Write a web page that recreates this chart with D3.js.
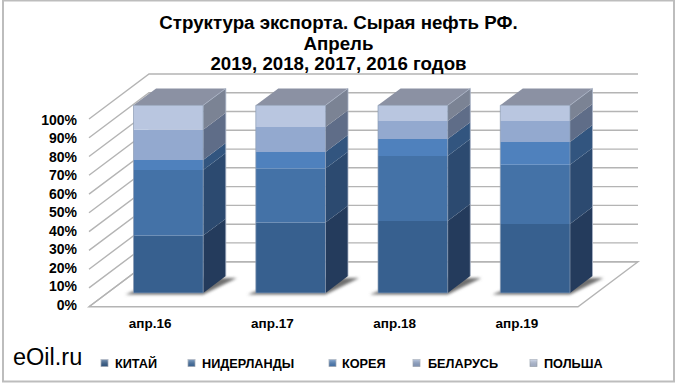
<!DOCTYPE html>
<html>
<head>
<meta charset="utf-8">
<script src="https://cdn.jsdelivr.net/npm/d3@7"></script>
<style>
  html, body { margin: 0; padding: 0; background: #fff; }
  svg { display: block; }
  text { font-family: "Liberation Sans", Arial, sans-serif; fill: #000; }
</style>
</head>
<body>
<div id="chart"></div>
<script>
// values, percent of total for each month
var categories = ['апр.16', 'апр.17', 'апр.18', 'апр.19'];
var seriesNames = ['КИТАЙ', 'НИДЕРЛАНДЫ', 'КОРЕЯ', 'БЕЛАРУСЬ', 'ПОЛЬША'];
var china = [30.6, 37.5, 38.4, 36.8];
var netherlands = [35.0, 28.8, 34.6, 31.5];
var korea = [5.3, 8.9, 9.0, 12.2];
var belarus = [16.1, 13.2, 9.7, 11.2];
var poland = [13.0, 11.6, 8.3, 8.3];
var seriesValues = [china, netherlands, korea, belarus, poland];
var percentTicks = [0, 10, 20, 30, 40, 50, 60, 70, 80, 90, 100];
var titleLines = ['Структура экспорта. Сырая нефть РФ.', 'Апрель', '2019, 2018, 2017, 2016 годов'];

function renderChart() {

  var attrs = {
    svgWidth: 680,
    svgHeight: 385,
    plotLeft: 89,
    plotRight: 578,
    plotBottom: 306.7,
    plotTop: 119,
    depthX: 60,
    depthY: 45,
    barFront: 0.304,
    barBack: 0.68,
    gridColor: '#b4b4b4',
    frontColors: ['#37608f', '#4472a7', '#4f81bd', '#93a9cf', '#b9c6e0'],
    sideColors: ['#243b5c', '#2c4a70', '#32557f', '#5f6d88', '#7b8394'],
    topColor: '#8b91a3',
    legendMarkerX: [101, 188, 329, 413, 530],
    legendTextX: [115, 202, 342, 428, 544]
  };

  //##########################  SCALES  #####################
  var scales = {};
  scales.x = d3.scaleBand()
    .domain(categories)
    .range([attrs.plotLeft, attrs.plotRight])
    .paddingInner(0.43)
    .paddingOuter(0.215);

  scales.y = d3.scaleLinear()
    .domain([0, 100])
    .range([attrs.plotBottom, attrs.plotTop]);

  // tick labels sit a little tighter than the gridlines
  scales.yLabels = d3.scaleLinear()
    .domain([0, 100])
    .range([305, 120]);

  // 3d projection, z runs from the front of the floor (0) to the back wall (1)
  function px(x, z) { return x + z * attrs.depthX; }
  function py(v, z) { return scales.y(v) - z * attrs.depthY; }
  function poly(points) {
    return points.map(function (p) { return p[0].toFixed(1) + ',' + p[1].toFixed(1); }).join(' ');
  }

  //##########################  LAYOUTS  ###################
  var rows = categories.map(function (c, i) {
    var row = { category: c };
    seriesNames.forEach(function (s, j) { row[s] = seriesValues[j][i]; });
    return row;
  });
  var stacked = d3.stack().keys(seriesNames)(rows);

  //#######################  DRAWING ######################
  var svg = d3.select('#chart').append('svg')
    .attr('width', attrs.svgWidth)
    .attr('height', attrs.svgHeight);

  var defs = svg.append('defs');
  defs.append('filter').attr('id', 'blur')
    .attr('x', '-20%').attr('y', '-20%').attr('width', '140%').attr('height', '140%')
    .append('feGaussianBlur').attr('stdDeviation', 1.4);

  var marker = defs.append('linearGradient').attr('id', 'marker-light')
    .attr('x1', 0).attr('y1', 0).attr('x2', 0).attr('y2', 1);
  marker.append('stop').attr('offset', 0).attr('stop-color', '#fff').attr('stop-opacity', 0.35);
  marker.append('stop').attr('offset', 1).attr('stop-color', '#000').attr('stop-opacity', 0.12);

  // outer frame
  svg.append('rect')
    .attr('x', 3).attr('y', 0.5)
    .attr('width', 671).attr('height', 381)
    .attr('fill', '#fff')
    .attr('stroke', '#bdbdbd')
    .attr('stroke-width', 2);

  // floor
  var grid = svg.append('g').attr('class', 'grid');
  grid.append('polygon')
    .attr('points', poly([
      [px(attrs.plotLeft, 0), py(0, 0)],
      [px(attrs.plotRight, 0), py(0, 0)],
      [px(attrs.plotRight, 1), py(0, 1)],
      [px(attrs.plotLeft, 1), py(0, 1)]
    ]))
    .attr('fill', '#fff')
    .attr('stroke', attrs.gridColor)
    .attr('stroke-width', 1.4);

  // walls
  grid.selectAll('.wall')
    .data(percentTicks)
    .enter().append('polyline')
    .attr('class', 'wall')
    .attr('fill', 'none')
    .attr('stroke', attrs.gridColor)
    .attr('stroke-width', 1.4)
    .attr('points', function (d) {
      return poly([
        [px(attrs.plotLeft, 0), py(d, 0)],
        [px(attrs.plotLeft, 1), py(d, 1)],
        [px(attrs.plotRight, 1), py(d, 1)]
      ]);
    });

  // bar shadows on the floor
  svg.append('g').selectAll('polygon')
    .data(categories)
    .enter().append('polygon')
    .attr('filter', 'url(#blur)')
    .attr('fill', '#6f6f6f')
    .attr('points', function (d) {
      var x0 = scales.x(d) - 8;
      var x1 = scales.x(d) + scales.x.bandwidth();
      return poly([
        [px(x0, attrs.barFront), py(0, attrs.barFront) + 1.5],
        [px(x1, attrs.barFront), py(0, attrs.barFront) + 1.5],
        [px(x1 + 11, attrs.barBack), py(0, attrs.barBack) + 2],
        [px(x0 + 19, attrs.barBack), py(0, attrs.barBack) + 2]
      ]);
    });

  // bars
  var bars = svg.append('g').attr('class', 'bars');
  stacked.forEach(function (layer, s) {
    layer.forEach(function (d, i) {
      var x0 = scales.x(categories[i]);
      var x1 = x0 + scales.x.bandwidth();

      // side face
      bars.append('polygon')
        .attr('fill', attrs.sideColors[s])
        .attr('points', poly([
          [px(x1, attrs.barFront), py(d[0], attrs.barFront)],
          [px(x1, attrs.barBack), py(d[0], attrs.barBack)],
          [px(x1, attrs.barBack), py(d[1], attrs.barBack)],
          [px(x1, attrs.barFront), py(d[1], attrs.barFront)]
        ]));

      // front face
      bars.append('polygon')
        .attr('fill', attrs.frontColors[s])
        .attr('points', poly([
          [px(x0, attrs.barFront), py(d[0], attrs.barFront)],
          [px(x1, attrs.barFront), py(d[0], attrs.barFront)],
          [px(x1, attrs.barFront), py(d[1], attrs.barFront)],
          [px(x0, attrs.barFront), py(d[1], attrs.barFront)]
        ]));
    });
  });

  // top face and the soft edges of each column
  categories.forEach(function (c) {
    var x0 = scales.x(c);
    var x1 = x0 + scales.x.bandwidth();

    bars.append('polygon')
      .attr('fill', attrs.topColor)
      .attr('points', poly([
        [px(x0, attrs.barFront), py(100, attrs.barFront)],
        [px(x1, attrs.barFront), py(100, attrs.barFront)],
        [px(x1, attrs.barBack), py(100, attrs.barBack)],
        [px(x0, attrs.barBack), py(100, attrs.barBack)]
      ]));

    bars.append('polygon')
      .attr('fill', 'none')
      .attr('stroke', '#8d9db5')
      .attr('stroke-opacity', 0.7)
      .attr('points', poly([
        [px(x0, attrs.barFront), py(0, attrs.barFront)],
        [px(x1, attrs.barFront), py(0, attrs.barFront)],
        [px(x1, attrs.barFront), py(100, attrs.barFront)],
        [px(x0, attrs.barFront), py(100, attrs.barFront)]
      ]));

    bars.append('polyline')
      .attr('fill', 'none')
      .attr('stroke', '#a9b3c6')
      .attr('stroke-opacity', 0.8)
      .attr('points', poly([
        [px(x1, attrs.barFront), py(100, attrs.barFront)],
        [px(x1, attrs.barBack), py(100, attrs.barBack)],
        [px(x1, attrs.barBack), py(0, attrs.barBack)]
      ]));
  });

  // left axis
  var leftAxis = svg.append('g')
    .attr('transform', 'translate(' + (attrs.plotLeft - 5) + ',0)')
    .call(d3.axisLeft(scales.yLabels)
      .tickValues(percentTicks)
      .tickFormat(function (d) { return d + '%'; })
      .tickSize(0)
      .tickPadding(7));
  leftAxis.select('.domain').remove();
  leftAxis.selectAll('text')
    .style('font-size', '14px')
    .style('font-weight', 'bold');

  // bottom axis
  var bottomAxis = svg.append('g')
    .attr('transform', 'translate(0,' + attrs.plotBottom + ')')
    .call(d3.axisBottom(d3.scaleBand().domain(categories).range([attrs.plotLeft, attrs.plotRight]))
      .tickSize(0)
      .tickPadding(11.5));
  bottomAxis.select('.domain').remove();
  bottomAxis.selectAll('text')
    .style('font-size', '13.5px')
    .style('font-weight', 'bold');

  // title
  svg.append('g').selectAll('text')
    .data(titleLines)
    .enter().append('text')
    .attr('x', 338.5)
    .attr('y', function (d, i) { return 29 + i * 20.7; })
    .attr('text-anchor', 'middle')
    .style('font-size', '18.7px')
    .style('font-weight', 'bold')
    .text(function (d) { return d; });

  // legend
  var legend = svg.append('g').selectAll('g')
    .data(seriesNames)
    .enter().append('g');

  legend.append('rect')
    .attr('x', function (d, i) { return attrs.legendMarkerX[i]; })
    .attr('y', 359.5)
    .attr('width', 7)
    .attr('height', 7)
    .attr('fill', function (d, i) { return attrs.frontColors[i]; })
    .attr('stroke', '#a7afbb')
    .attr('stroke-width', 0.8);

  legend.append('rect')
    .attr('x', function (d, i) { return attrs.legendMarkerX[i]; })
    .attr('y', 359.5)
    .attr('width', 7)
    .attr('height', 7)
    .attr('fill', 'url(#marker-light)');

  legend.append('text')
    .attr('x', function (d, i) { return attrs.legendTextX[i]; })
    .attr('y', 367.5)
    .style('font-size', '12.7px')
    .style('font-weight', 'bold')
    .text(function (d) { return d; });

  // watermark
  svg.append('text')
    .attr('x', 13)
    .attr('y', 365)
    .style('font-size', '23.5px')
    .text('eOil.ru');
}

renderChart();
</script>
</body>
</html>
